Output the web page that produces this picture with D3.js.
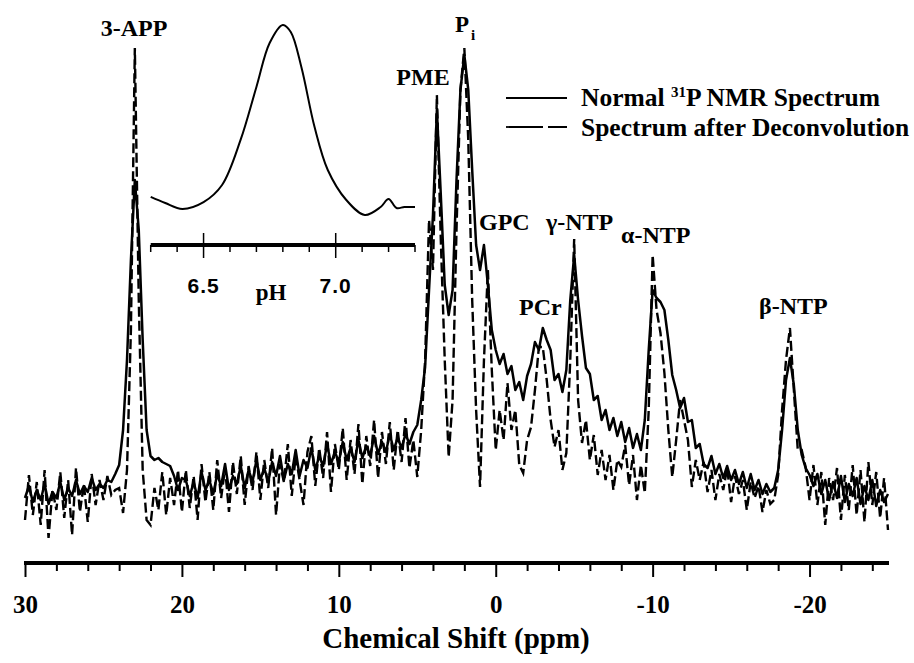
<!DOCTYPE html>
<html>
<head>
<meta charset="utf-8">
<script src="https://cdn.jsdelivr.net/npm/d3@7"></script>
<style>
    body { margin: 0; background: #fff; }
    svg text { font-family: "Liberation Serif", "Times New Roman", serif; font-weight: bold; fill: #000; }
</style>
</head>
<body>
<div id="chart"></div>
<script>
// chemical shift grid of the spectrum (ppm), 0.25 ppm per point
const ppmGrid = d3.range(0, 221).map(i => 30 - i * 0.25);

const majorShiftTicks = [30, 20, 10, 0, -10, -20];
const minorShiftTicks = [28, 26, 24, 22, 18, 16, 14, 12, 8, 6, 4, 2, -2, -4, -6, -8, -12, -14, -16, -18, -22, -24];

// normal 31P NMR spectrum (a.u.)
const normalSpectrum = [
    62, 74, 58, 70, 60, 76, 56, 68, 62, 78, 60, 72, 64, 80, 66, 74, 68, 82, 70, 76, 72, 80, 78, 86,
    95, 130, 200, 300, 380, 330, 220, 130, 104, 100, 102, 98, 96, 94, 84, 70, 82,
    80, 64, 78, 62, 88, 70, 80, 66, 86, 74, 96, 70, 84, 76, 94, 72, 90, 78, 100, 80,
    92, 78, 98, 84, 104, 80, 96, 86, 110, 84, 100, 92, 112, 90, 104, 94, 116, 96, 108, 98,
    118, 100, 112, 98, 120, 102, 114, 104, 124, 106, 118, 108, 126, 110, 122, 112, 126, 116, 128,
    135, 160, 193, 270, 345, 450, 365, 275, 245, 270, 380, 470, 505, 470, 390, 315, 290, 315, 275, 230,
    210, 196, 206, 186, 194, 170, 178, 160, 184, 196, 218, 210, 232, 220, 210, 180, 186, 168, 190, 260,
    305, 260, 224, 192, 186, 160, 164, 140, 150, 130, 142, 124, 138, 118, 132, 112, 126, 110, 140, 210,
    270, 262, 258, 250, 220, 185, 170, 152, 162, 138, 140, 112, 116, 96,
    92, 104, 86, 96, 82, 94, 80, 90, 76, 88, 72, 86, 70, 80, 66, 76, 68, 72,
    90, 130, 180, 202, 175, 130, 105, 92, 85,
    74, 86, 66, 80, 60, 78, 62, 84, 58, 76, 64, 82, 56, 74, 60, 80, 54, 70, 58, 66
];

// spectrum after deconvolution (a.u.)
const deconvolvedSpectrum = [
    40, 85, 45, 78, 35, 90, 22, 70, 50, 88, 42, 80, 25, 92, 48, 76, 38, 86, 55, 80, 60, 84, 65, 70,
    72, 47, 90, 230, 512, 260, 90, 40, 35, 72, 50, 88, 45, 82, 55, 90, 48,
    90, 52, 84, 40, 96, 58, 88, 50, 100, 62, 92, 48, 98, 66, 104, 55, 94, 70, 108, 60,
    100, 72, 112, 45, 96, 78, 116, 64, 104, 80, 55, 108, 124, 74, 112, 82, 128, 68, 116, 90,
    132, 80, 120, 86, 136, 76, 124, 94, 140, 82, 128, 96, 138, 90, 130, 98, 142, 92, 120,
    83, 130, 200, 340, 290, 465, 320, 200, 103, 160, 330, 470, 512, 420, 260, 150, 73, 200, 290, 190,
    110, 150, 120, 177, 130, 150, 95, 87, 120, 133, 170, 213, 213, 180, 140, 113, 130, 90, 107, 200,
    321, 160, 117, 140, 100, 125, 85, 110, 80, 105, 70, 100, 93, 115, 75, 105, 60, 95, 67, 150,
    305, 250, 227, 187, 130, 83, 120, 160, 140, 120, 73, 100, 80, 98,
    68, 90, 60, 86, 70, 92, 58, 84, 66, 80, 50, 78, 62, 74, 48, 70, 56, 60,
    85, 150, 200, 232, 170, 110, 110, 93, 60,
    95, 55, 88, 35, 82, 60, 92, 40, 85, 50, 95, 45, 90, 38, 98, 55, 88, 42, 82, 30
];

// inset: pH distribution
const insetPH = [6.30, 6.355, 6.42, 6.50, 6.57, 6.64, 6.70, 6.75, 6.80, 6.83, 6.87, 6.92, 6.97, 7.04, 7.11, 7.17, 7.20, 7.23, 7.26, 7.30];
const insetIntensity = [9.5, 6.3, 3.2, 6.8, 15.8, 39.5, 67.4, 90.5, 100, 96.3, 77.9, 46.3, 23.7, 7.9, 0, 4.2, 8.4, 3.7, 4.2, 4.2];
const insetMajorTicks = [6.5, 7.0];
const insetMinorTicks = [6.3, 6.4, 6.6, 6.7, 6.8, 6.9, 7.1, 7.2, 7.3];

const legendNames = ["Normal", "Spectrum after Deconvolution"];


class NmrSpectrumPlot {
    constructor(width, height) {
        this.width = width;
        this.height = height;
    }

    init(root) {
        let svg = this.createSVGContainer(root);
        this.x = d3.scaleLinear().domain([30, -25]).range([25, 888]);
        this.y = d3.scaleLinear().domain([0, 520]).range([560, 40]);
        this.createAxis(svg);
        this.createSpectra(svg);
        this.createInset(svg);
        this.createPeakLabels(svg);
        this.createLegend(svg);
    }

    createSVGContainer(root) {
        return d3.select(root)
            .append("svg")
            .attr("width", this.width)
            .attr("height", this.height)
            .style("display", "block");
    }

    createAxis(svg) {
        let axisY = 563;
        let g = svg.append("g").attr("transform", "translate(0," + axisY + ")");

        g.append("g")
            .call(d3.axisBottom(this.x).tickValues(minorShiftTicks).tickSize(8).tickSizeOuter(0).tickFormat(""))
            .call(a => a.select(".domain").remove())
            .selectAll("line").attr("stroke-width", 2);

        let major = g.append("g")
            .call(d3.axisBottom(this.x).tickValues(majorShiftTicks).tickSize(14).tickSizeOuter(0)
                .tickFormat(d => String(d)));
        major.select(".domain").remove();
        major.selectAll("line").attr("stroke-width", 2);
        major.selectAll("text")
            .attr("y", 50)
            .attr("dy", 0)
            .style("font-size", "25px");
        major.attr("font-family", null).attr("font-size", null);

        g.append("line")
            .attr("x1", this.x(30) - 1)
            .attr("x2", this.x(-25) + 1)
            .attr("stroke", "#000")
            .attr("stroke-width", 4);

        svg.append("text")
            .attr("x", 456)
            .attr("y", 648)
            .attr("text-anchor", "middle")
            .style("font-size", "29px")
            .text("Chemical Shift (ppm)");
    }

    createSpectra(svg) {
        let self = this;
        let line = d3.line()
            .x((d, i) => self.x(ppmGrid[i]))
            .y(d => self.y(d));

        svg.append("path")
            .datum(deconvolvedSpectrum)
            .attr("fill", "none")
            .attr("stroke", "#000")
            .attr("stroke-width", 2.4)
            .attr("stroke-dasharray", "10,4")
            .attr("d", line);

        svg.append("path")
            .datum(normalSpectrum)
            .attr("fill", "none")
            .attr("stroke", "#000")
            .attr("stroke-width", 2.5)
            .attr("stroke-linejoin", "round")
            .attr("d", line);
    }

    createInset(svg) {
        let ix = d3.scaleLinear().domain([6.3, 7.3]).range([150.7, 415]);
        let iy = d3.scaleLinear().domain([0, 100]).range([215, 25]);
        let g = svg.append("g");

        g.append("path")
            .datum(insetIntensity)
            .attr("fill", "none")
            .attr("stroke", "#000")
            .attr("stroke-width", 2)
            .attr("d", d3.line()
                .x((d, i) => ix(insetPH[i]))
                .y(d => iy(d))
                .curve(d3.curveCatmullRom));

        let axisY = 245;
        g.append("line")
            .attr("x1", ix(6.3))
            .attr("x2", ix(7.3))
            .attr("y1", axisY)
            .attr("y2", axisY)
            .attr("stroke", "#000")
            .attr("stroke-width", 4);

        g.selectAll(".minor")
            .data(insetMinorTicks)
            .enter()
            .append("line")
            .attr("x1", d => ix(d))
            .attr("x2", d => ix(d))
            .attr("y1", axisY)
            .attr("y2", axisY + 7)
            .attr("stroke", "#000")
            .attr("stroke-width", 1.5);

        g.selectAll(".major")
            .data(insetMajorTicks)
            .enter()
            .append("line")
            .attr("x1", d => ix(d))
            .attr("x2", d => ix(d))
            .attr("y1", axisY - 12)
            .attr("y2", axisY + 13)
            .attr("stroke", "#000")
            .attr("stroke-width", 1.5);

        g.selectAll(".tick-label")
            .data(insetMajorTicks)
            .enter()
            .append("text")
            .attr("x", d => ix(d))
            .attr("y", 293)
            .attr("text-anchor", "middle")
            .style("font-family", "'Liberation Sans', Arial, sans-serif")
            .style("font-size", "21px")
            .style("letter-spacing", "1px")
            .text(d => d.toFixed(1));

        g.append("text")
            .attr("x", 271)
            .attr("y", 300)
            .attr("text-anchor", "middle")
            .style("font-size", "23px")
            .text("pH");
    }

    createPeakLabels(svg) {
        let labels = [
            {name: "3-APP", x: 134, y: 36, anchor: "middle"},
            {name: "PME", x: 423, y: 85, anchor: "middle"},
            {name: "GPC", x: 479, y: 230, anchor: "start"},
            {name: "γ-NTP", x: 546, y: 230, anchor: "start"},
            {name: "α-NTP", x: 621, y: 243, anchor: "start"},
            {name: "PCr", x: 519, y: 315, anchor: "start"},
            {name: "β-NTP", x: 759, y: 314, anchor: "start"}
        ];
        svg.selectAll(".peak-label")
            .data(labels)
            .enter()
            .append("text")
            .attr("class", "peak-label")
            .attr("x", d => d.x)
            .attr("y", d => d.y)
            .attr("text-anchor", d => d.anchor)
            .style("font-size", "24px")
            .text(d => d.name);

        let pi = svg.append("text")
            .attr("x", 455)
            .attr("y", 32)
            .style("font-size", "23px");
        pi.append("tspan").text("P");
        pi.append("tspan").attr("dx", 2).attr("dy", 8).style("font-size", "15px").text("i");
    }

    createLegend(svg) {
        svg.append("line")
            .attr("x1", 506).attr("x2", 567)
            .attr("y1", 98).attr("y2", 98)
            .attr("stroke", "#000")
            .attr("stroke-width", 1.8);
        svg.append("line")
            .attr("x1", 506).attr("x2", 567)
            .attr("y1", 127).attr("y2", 127)
            .attr("stroke", "#000")
            .attr("stroke-width", 1.8)
            .attr("stroke-dasharray", "37,5");

        let t1 = svg.append("text")
            .attr("x", 581)
            .attr("y", 106)
            .style("font-size", "25.5px");
        t1.append("tspan").text(legendNames[0] + " ");
        t1.append("tspan").attr("dy", -9).style("font-size", "15px").text("31");
        t1.append("tspan").attr("dy", 9).text("P NMR Spectrum");

        svg.append("text")
            .attr("x", 581)
            .attr("y", 136)
            .style("font-size", "25.5px")
            .text(legendNames[1]);
    }
}

const plot = new NmrSpectrumPlot(914, 663);
plot.init("#chart");
</script>
</body>
</html>
